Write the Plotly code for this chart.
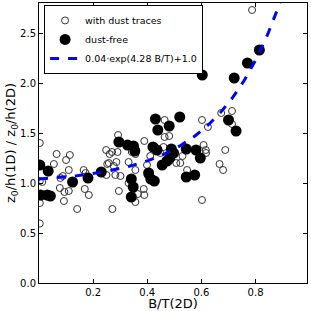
import numpy as np
import plotly.graph_objects as go

# dust-free (filled) points
free_x = [0.003, 0.034, 0.006, 0.030, 0.042, 0.124, 0.181, 0.230, 0.295, 0.327,
          0.349, 0.354, 0.341, 0.348, 0.341, 0.430, 0.439, 0.421, 0.436, 0.489,
          0.481, 0.520, 0.497, 0.483, 0.473, 0.455, 0.405, 0.413, 0.426, 0.544,
          0.580, 0.596, 0.544, 0.575, 0.603, 0.721, 0.770, 0.814, 0.700, 0.728]
free_y = [1.18, 1.12, 0.88, 0.88, 0.87, 1.01, 1.05, 1.11, 1.41, 1.38,
          1.37, 1.32, 1.04, 0.96, 0.86, 1.64, 1.53, 1.36, 1.33, 1.34,
          1.57, 1.66, 1.30, 1.25, 1.22, 1.18, 1.10, 1.04, 1.02, 1.34,
          1.33, 1.25, 1.06, 1.08, 2.08, 2.05, 2.20, 2.33, 1.63, 1.52]

# with dust traces (open) points
dust_x = [0.003, 0.292, 0.065, 0.114, 0.248, 0.261, 0.290, 0.389, 0.343, 0.356,
          0.411, 0.787, 0.713, 0.673, 0.713, 0.602, 0.624, 0.464, 0.481, 0.464,
          0.460, 0.608, 0.616, 0.617, 0.688, 0.530, 0.507, 0.522, 0.547, 0.667,
          0.680, 0.602, 0.055, 0.100, 0.110, 0.088, 0.077, 0.110, 0.094, 0.165,
          0.172, 0.169, 0.184, 0.258, 0.003, 0.012, 0.003, 0.003, 0.092, 0.141,
          0.079, 0.252, 0.271, 0.295, 0.249, 0.282, 0.301, 0.270, 0.331, 0.356,
          0.356, 0.365, 0.387, 0.389, 0.399, 0.401, 0.286, 0.276, 0.331, 0.448]
dust_y = [1.40, 1.48, 1.29, 1.28, 1.33, 1.29, 1.31, 1.42, 1.31, 1.29,
          1.27, 2.73, 1.72, 1.70, 1.59, 1.63, 1.56, 1.63, 1.47, 1.46,
          1.36, 1.38, 1.33, 1.30, 1.33, 1.27, 1.20, 1.20, 1.13, 1.19,
          1.13, 0.83, 1.19, 1.23, 1.13, 1.07, 0.95, 0.92, 0.91, 1.13,
          1.10, 0.94, 0.88, 1.20, 1.02, 1.01, 0.80, 0.595, 0.82, 0.74,
          1.05, 1.19, 0.74, 0.92, 1.08, 1.08, 1.07, 1.31, 1.21, 1.13,
          0.81, 0.89, 0.94, 0.88, 1.18, 1.08, 1.21, 1.17, 1.00, 1.30]

# fit parameters shown in the legend
fit_a, fit_b, fit_c = 0.04, 4.28, 1.0
fit_x = np.linspace(0.0, 0.99, 200)
fit_y = fit_a * np.exp(fit_b * fit_x) + fit_c

x_ticks = [0.2, 0.4, 0.6, 0.8]
y_ticks = [0.0, 0.5, 1.0, 1.5, 2.0, 2.5]

fig = go.Figure()
fig.add_trace(go.Scatter(
    x=dust_x, y=dust_y, mode="markers", name="with dust traces",
    marker=dict(symbol="circle-open", size=7, color="#333333", line=dict(width=1)),
))
fig.add_trace(go.Scatter(
    x=free_x, y=free_y, mode="markers", name="dust-free",
    marker=dict(symbol="circle", size=11, color="black", line=dict(width=0)),
))
fig.add_trace(go.Scatter(
    x=fit_x, y=fit_y, mode="lines", name="0.04·exp(4.28 B/T)+1.0",
    line=dict(color="#0000ff", width=3, dash="dash"),
))

axis_common = dict(
    showgrid=False, zeroline=False, showline=True, linecolor="black", linewidth=1,
    mirror="ticks", ticks="inside", ticklen=4, tickcolor="black", tickwidth=1,
    tickfont=dict(family="DejaVu Sans", size=10, color="black"), automargin=False,
)
fig.update_layout(
    width=311, height=311,
    margin=dict(l=39, r=4, t=3, b=28),
    paper_bgcolor="white", plot_bgcolor="white",
    font=dict(family="DejaVu Sans", color="black"),
    xaxis=dict(range=[0, 0.99], tickvals=x_ticks, ticktext=[str(v) for v in x_ticks],
               title=dict(text="B/T(2D)", font=dict(size=13), standoff=0), **axis_common),
    yaxis=dict(range=[0, 2.8], tickvals=y_ticks, ticktext=[f"{v:.1f}" for v in y_ticks],
               title=dict(text="z<sub>0</sub>/h(1D) / z<sub>0</sub>/h(2D)", font=dict(size=13), standoff=0),
               **axis_common),
    legend=dict(x=0.019, y=0.993, xanchor="left", yanchor="top",
                bgcolor="white", bordercolor="black", borderwidth=1,
                font=dict(size=9.5, family="DejaVu Sans"), tracegroupgap=0),
    showlegend=True,
)
fig.write_html("out.html", config={"displayModeBar": False},
               post_script="document.body.style.margin='0px';")
